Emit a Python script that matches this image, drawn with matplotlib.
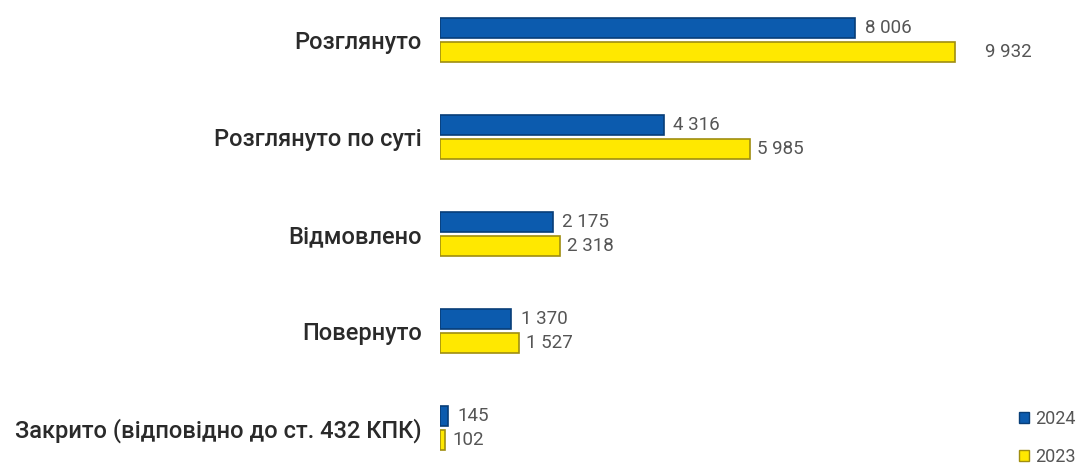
import matplotlib
matplotlib.use("Agg")
import matplotlib.pyplot as plt
from matplotlib.patches import Patch
import numpy as np

categories = ["Розглянуто", "Розглянуто по суті", "Відмовлено", "Повернуто",
              "Закрито (відповідно до ст. 432 КПК)"]
values_2024 = [8006, 4316, 2175, 1370, 145]
values_2023 = [9932, 5985, 2318, 1527, 102]
series_names = ["2024", "2023"]

plt.rcParams['font.family'] = ['Roboto', 'DejaVu Sans']

fig = plt.figure(figsize=(10.82, 4.68), dpi=100)
ax = fig.add_axes([440/1082, 0, 570/1082, 1])

y = np.arange(len(categories))
h = 0.21
off = 0.125
blue = '#0C5BAE'
blue_edge = '#083E78'
yellow = '#FFE800'
yellow_edge = '#A08E10'

ax.barh(y - off, values_2024, height=h, color=blue, edgecolor=blue_edge, linewidth=1.2)
ax.barh(y + off, values_2023, height=h, color=yellow, edgecolor=yellow_edge, linewidth=1.2)

def fmt(v):
    return f"{v:,}".replace(",", " ")

for i, (a, b) in enumerate(zip(values_2024, values_2023)):
    ax.annotate(fmt(a), (a, i - off), xytext=(7, 0), textcoords='offset points',
                va='center', ha='left', fontsize=13.5, color='#555555')
    extra = 22 if i == 0 else 5
    ax.annotate(fmt(b), (b, i + off), xytext=(extra, 0), textcoords='offset points',
                va='center', ha='left', fontsize=13.5, color='#555555')

ax.set_xlim(0, 11000)
ax.set_ylim(4 + 40/97, -40/97)
ax.set_yticks(y)
ax.set_yticklabels(categories, fontsize=17, color='#2a2a2a', fontweight='medium')
ax.tick_params(axis='y', length=0, pad=13)
ax.set_xticks([])
for s in ax.spines.values():
    s.set_visible(False)

handles = [Patch(facecolor=blue, edgecolor=blue_edge, label=series_names[0]),
           Patch(facecolor=yellow, edgecolor=yellow_edge, label=series_names[1])]
fig.legend(handles=handles, loc='upper left', bbox_to_anchor=(1019/1082, 1 - 410/468),
           frameon=False, handlelength=0.55, handleheight=0.55, handletextpad=0.35,
           labelspacing=1.1, fontsize=13, labelcolor='#555555',
           borderpad=0, borderaxespad=0)

fig.savefig("out.png", dpi=100)
